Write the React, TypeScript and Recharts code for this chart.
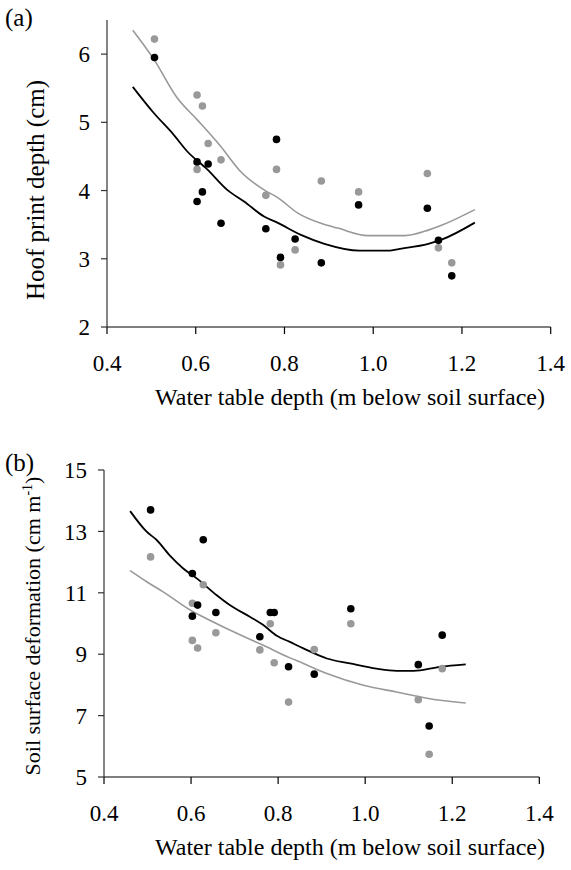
import React from "react";
import { ScatterChart, Scatter, XAxis, YAxis } from "recharts";

const FONT = '"Liberation Serif", "Times New Roman", Times, serif';

// Water table depth (m below soil surface) for each sampled point
const depthX = [0.507, 0.603, 0.603, 0.615, 0.628, 0.657, 0.758, 0.782, 0.791, 0.824, 0.883, 0.967, 1.122, 1.147, 1.177];

// (a) Hoof print depth (cm)
const hoofGray = [6.22, 5.4, 4.31, 5.24, 4.69, 4.45, 3.93, 4.31, 2.91, 3.13, 4.14, 3.98, 4.25, 3.16, 2.94];
const hoofBlack = [5.95, 4.42, 3.84, 3.98, 4.39, 3.52, 3.44, 4.75, 3.02, 3.29, 2.94, 3.79, 3.74, 3.27, 2.75];

// (b) Soil surface deformation (cm m-1)
const deformBlack = [13.7, 11.63, 10.24, 10.6, 12.73, 10.36, 9.57, 10.36, 10.36, 8.59, 8.35, 10.48, 8.66, 6.66, 9.62];
const deformGray = [12.17, 10.66, 9.45, 9.2, 11.26, 9.7, 9.14, 9.99, 8.72, 7.44, 9.15, 9.99, 7.52, 5.74, 8.53];

// Fitted curves
const hoofGrayFitX = [0.458, 0.505, 0.558, 0.603, 0.656, 0.701, 0.754, 0.784, 0.83, 0.882, 0.92, 0.988, 1.071, 1.124, 1.154, 1.229];
const hoofGrayFitY = [6.35, 5.93, 5.36, 5.04, 4.65, 4.28, 4.01, 3.9, 3.67, 3.52, 3.45, 3.34, 3.34, 3.42, 3.49, 3.72];
const hoofBlackFitX = [0.458, 0.505, 0.55, 0.58, 0.626, 0.671, 0.709, 0.754, 0.784, 0.837, 0.89, 0.969, 1.033, 1.064, 1.124, 1.154, 1.229];
const hoofBlackFitY = [5.52, 5.14, 4.82, 4.58, 4.31, 4.01, 3.84, 3.62, 3.53, 3.35, 3.22, 3.12, 3.12, 3.15, 3.22, 3.28, 3.53];

const deformBlackFitX = [0.46, 0.498, 0.521, 0.552, 0.582, 0.613, 0.659, 0.689, 0.735, 0.766, 0.797, 0.827, 0.858, 0.912, 0.965, 1.026, 1.072, 1.111, 1.172, 1.231];
const deformBlackFitY = [13.66, 12.99, 12.72, 12.2, 11.79, 11.47, 10.92, 10.6, 10.22, 9.95, 9.6, 9.4, 9.19, 8.86, 8.7, 8.53, 8.46, 8.46, 8.59, 8.67];
const deformGrayFitX = [0.46, 0.498, 0.536, 0.598, 0.651, 0.705, 0.766, 0.827, 0.858, 0.912, 0.996, 1.072, 1.172, 1.231];
const deformGrayFitY = [11.72, 11.36, 11.03, 10.44, 10.05, 9.68, 9.29, 8.88, 8.7, 8.37, 7.99, 7.77, 7.5, 7.41];

const xTicks = [0.4, 0.6, 0.8, 1.0, 1.2, 1.4];
const hoofTicks = [2, 3, 4, 5, 6];
const deformTicks = [5, 7, 9, 11, 13, 15];

const GRAY = "#999999";
const BLACK = "#000000";

const pts = (xs: number[], ys: number[]) => xs.map((x, i) => ({ x, y: ys[i] }));

const dot = (color: string) => (props: any) => (
  <circle cx={props.cx} cy={props.cy} r={3.8} fill={color} stroke="none" />
);
const noShape = () => <g />;

type PanelProps = {
  top: number;
  height: number;
  yAxisWidth: number;
  marginRight: number;
  marginBottom: number;
  yDomain: [number, number];
  yTicks: number[];
  grayPts: { x: number; y: number }[];
  blackPts: { x: number; y: number }[];
  grayFit: { x: number; y: number }[];
  blackFit: { x: number; y: number }[];
};

function Panel(p: PanelProps) {
  const tickStyle = { fill: "#000", fontSize: 23, fontFamily: FONT };
  return (
    <div style={{ position: "absolute", left: 0, top: p.top }}>
      <ScatterChart
        width={571}
        height={p.height}
        margin={{ top: 20, right: p.marginRight, bottom: p.marginBottom, left: 0 }}
      >
        <XAxis
          type="number"
          dataKey="x"
          domain={[0.4, 1.4]}
          ticks={xTicks}
          interval={0}
          allowDataOverflow
          tickFormatter={(v: number) => v.toFixed(1)}
          height={40}
          tickSize={7}
          tickMargin={21}
          tick={tickStyle}
          axisLine={{ stroke: "#000", strokeWidth: 1.2 }}
          tickLine={{ stroke: "#000", strokeWidth: 1.2 }}
        />
        <YAxis
          type="number"
          dataKey="y"
          domain={p.yDomain}
          ticks={p.yTicks}
          interval={0}
          allowDataOverflow
          width={p.yAxisWidth}
          tickSize={6}
          tickMargin={11}
          tick={tickStyle}
          axisLine={{ stroke: "#333", strokeWidth: 1.2 }}
          tickLine={{ stroke: "#333", strokeWidth: 1.2 }}
        />
        <Scatter data={p.grayFit} fill={GRAY} line={{ stroke: GRAY, strokeWidth: 1.6 }} lineJointType="monotoneX" shape={noShape} isAnimationActive={false} />
        <Scatter data={p.blackFit} fill={BLACK} line={{ stroke: BLACK, strokeWidth: 1.8 }} lineJointType="monotoneX" shape={noShape} isAnimationActive={false} />
        <Scatter data={p.grayPts} fill={GRAY} shape={dot(GRAY)} isAnimationActive={false} />
        <Scatter data={p.blackPts} fill={BLACK} shape={dot(BLACK)} isAnimationActive={false} />
      </ScatterChart>
    </div>
  );
}

const textBase: React.CSSProperties = {
  position: "absolute",
  fontFamily: FONT,
  color: "#000",
  whiteSpace: "nowrap",
  lineHeight: 1,
};

export default function App() {
  return (
    <div style={{ position: "absolute", left: 0, top: 0, width: 571, height: 870, background: "#fff", overflow: "hidden" }}>
      <Panel
        top={0}
        height={400}
        yAxisWidth={107}
        marginRight={20.3}
        marginBottom={33}
        yDomain={[2, 6.5]}
        yTicks={hoofTicks}
        grayPts={pts(depthX, hoofGray)}
        blackPts={pts(depthX, hoofBlack)}
        grayFit={pts(hoofGrayFitX, hoofGrayFitY)}
        blackFit={pts(hoofBlackFitX, hoofBlackFitY)}
      />
      <Panel
        top={450}
        height={420}
        yAxisWidth={104}
        marginRight={31.7}
        marginBottom={53}
        yDomain={[5, 15]}
        yTicks={deformTicks}
        grayPts={pts(depthX, deformGray)}
        blackPts={pts(depthX, deformBlack)}
        grayFit={pts(deformGrayFitX, deformGrayFitY)}
        blackFit={pts(deformBlackFitX, deformBlackFitY)}
      />

      <div style={{ ...textBase, left: 5, top: 5, fontSize: 25 }}>(a)</div>
      <div style={{ ...textBase, left: 5, top: 450, fontSize: 25 }}>(b)</div>

      <div style={{ ...textBase, left: 350, top: 397, fontSize: 24, transform: "translate(-50%, -50%)" }}>
        Water table depth (m below soil surface)
      </div>
      <div style={{ ...textBase, left: 350, top: 847, fontSize: 24, transform: "translate(-50%, -50%)" }}>
        Water table depth (m below soil surface)
      </div>

      <div style={{ ...textBase, left: 35, top: 190, fontSize: 25, transform: "translate(-50%, -50%) rotate(-90deg)" }}>
        Hoof print depth (cm)
      </div>
      <div style={{ ...textBase, left: 33, top: 626, fontSize: 22, transform: "translate(-50%, -50%) rotate(-90deg)" }}>
        Soil surface deformation (cm m<sup style={{ fontSize: 14, verticalAlign: "super", lineHeight: 0 }}>-1</sup>)
      </div>
    </div>
  );
}
